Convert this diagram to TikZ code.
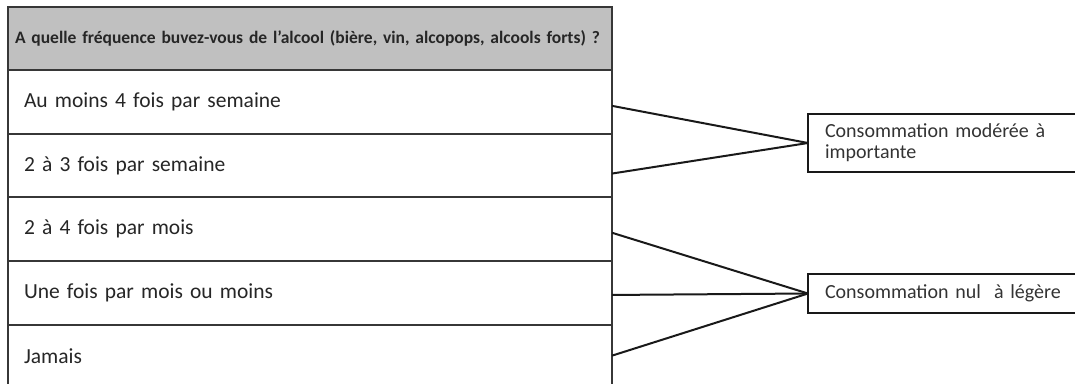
\documentclass[tikz,border=0pt]{standalone}
\usepackage{fontspec}
\setmainfont{Carlito}
\usepackage{tikz}
\usetikzlibrary{positioning}
\definecolor{hdrgray}{RGB}{192,192,192}
\definecolor{rulegray}{RGB}{55,55,55}
\newcommand{\qfont}{\fontsize{17.5}{21}\selectfont}
\newcommand{\rowfont}{\fontsize{21.5}{25}\selectfont}
\newcommand{\grpfont}{\fontsize{20}{21}\selectfont}
\tikzset{
  % --- question table ---------------------------------------------------------
  qhead/.style={rectangle,draw=rulegray,fill=hdrgray,line width=2pt,outer sep=0pt,
                anchor=north west,minimum height=63pt,text width=590pt,
                inner xsep=7pt,align=left,font=\qfont\bfseries,text=black!85},
  qrow/.style={rectangle,draw=rulegray,fill=white,line width=2pt,outer sep=0pt,
               minimum height=63.7pt,text width=572pt,inner xsep=16pt,
               align=left,font=\rowfont,text=black!85},
  % --- recoded groups ---------------------------------------------------------
  group/.style={rectangle,draw=black!90,line width=2pt,outer sep=0pt,anchor=west,
                text width=250pt,inner xsep=17pt,align=left,font=\grpfont,
                text=black!80},
  link/.style={black!90,line width=2pt},
}

\begin{document}
\begin{tikzpicture}[x=1pt, y=-1pt]
  \useasboundingbox (0,0) rectangle (1075,383);
  \clip (0,0) rectangle (1075,383);

  \node[qhead] (q) at (8,7)
    {A quelle fréquence buvez-vous de l'alcool (bière, vin, alcopops, alcools forts) ?};
  \node[qrow, below=0pt of q]  (r1) {Au moins 4 fois par semaine};
  \node[qrow, below=0pt of r1] (r2) {2 à 3 fois par semaine};
  \node[qrow, below=0pt of r2] (r3) {2 à 4 fois par mois};
  \node[qrow, below=0pt of r3] (r4) {Une fois par mois ou moins};
  \node[qrow, below=0pt of r4] (r5) {Jamais};

  \node[group, minimum height=58pt] (g1) at (808,143)
    {Consommation modérée à\\importante};
  \node[group, minimum height=39pt] (g2) at (808,293.5)
    {Consommation nul~ à légère};

  \draw[link] ([yshift=-4pt]r1.east)   -- (g1.west);
  \draw[link] ([yshift=-8pt]r2.east)   -- (g1.west);
  \draw[link] ([yshift=-3.5pt]r3.east) -- (g2.west);
  \draw[link] ([yshift=-2pt]r4.east)   -- (g2.west);
  \draw[link] ([yshift=1pt]r5.east)    -- (g2.west);
\end{tikzpicture}
\end{document}
